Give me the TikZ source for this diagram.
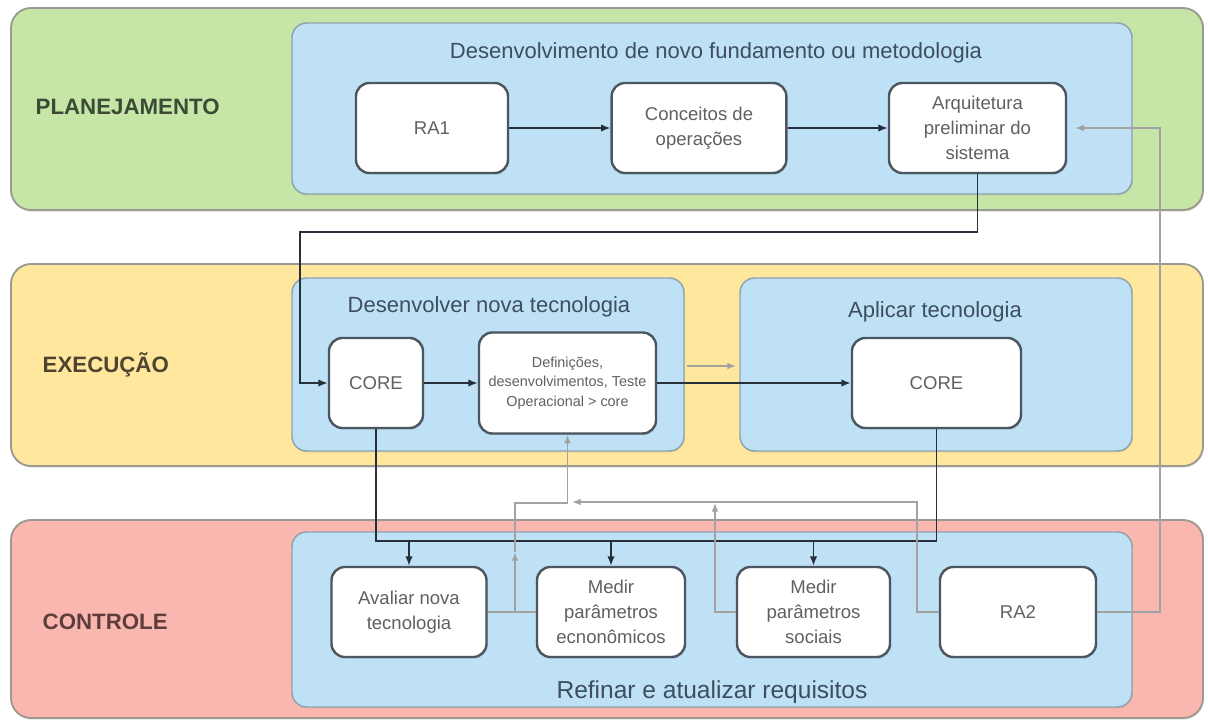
\documentclass[tikz,border=0pt]{standalone}
\usepackage{fontspec}
\setmainfont{Liberation Sans}
\usetikzlibrary{arrows.meta,fit,shadows}
\definecolor{lgreen}{HTML}{C5E6A6}
\definecolor{lyellow}{HTML}{FFE79E}
\definecolor{lpink}{HTML}{F9B7AF}
\definecolor{lblue}{HTML}{BFE1F5}
\definecolor{laneline}{HTML}{9C9A90}
\definecolor{blueline}{HTML}{8FA2AE}
\definecolor{boxline}{HTML}{4C5660}
\definecolor{boxtext}{HTML}{606060}
\definecolor{titletext}{HTML}{3D4E5E}
\definecolor{darkline}{HTML}{26303A}
\definecolor{grayline}{HTML}{A2A2A2}
\definecolor{plantext}{HTML}{3C4A36}
\definecolor{exectext}{HTML}{4E4430}
\definecolor{conttext}{HTML}{5E3E3C}
\begin{document}
\begin{tikzpicture}[x=0.75pt,y=-0.75pt,
  lane/.style={draw=laneline, line width=1.4pt, rounded corners=15pt, inner sep=0pt,
    drop shadow={shadow xshift=0.6pt, shadow yshift=-1.2pt, opacity=0.25}},
  bluebox/.style={draw=blueline, line width=1.1pt, fill=lblue, rounded corners=11pt, inner sep=0pt,
    drop shadow={shadow xshift=0.6pt, shadow yshift=-1.0pt, opacity=0.2}},
  wbox/.style={draw=boxline, line width=1.8pt, fill=white, rounded corners=10pt, align=center,
    text=boxtext, font=\fontsize{13.9}{18.75}\selectfont, inner sep=2pt,
    minimum height=67.5pt,
    drop shadow={shadow xshift=0.8pt, shadow yshift=-1.2pt, opacity=0.25}},
  lanelabel/.style={anchor=west, font=\fontsize{16.7}{20}\selectfont\bfseries},
  boxtitle/.style={text=titletext, font=\fontsize{16.5}{20}\selectfont},
  bline/.style={draw=darkline, line width=1.2pt},
  barrow/.style={bline, -{Latex[length=7pt,width=5.5pt]}},
  gline/.style={draw=grayline, line width=1.1pt},
  garrow/.style={gline, -{Latex[length=6.5pt,width=5pt]}}
]
\useasboundingbox (0,0) rectangle (1208,722);
\fill[white] (0,0) rectangle (1208,722);

% lanes
\node[lane, fill=lgreen, fit={(11,8) (1203,210)}] (plan) {};
\node[lane, fill=lyellow, fit={(11,264) (1203,466)}] (exec) {};
\node[lane, fill=lpink, fit={(11,520) (1203,718)}] (cont) {};

\node[lanelabel, text=plantext] (lplan) at (31,107) {PLANEJAMENTO};
\node[lanelabel, text=exectext] (lexec) at (38,365) {EXECUÇÃO};
\node[lanelabel, text=conttext] (lcont) at (38,622) {CONTROLE};

% blue containers
\node[bluebox, fit={(292,23) (1132,194)}] (bplan) {};
\node[bluebox, fit={(292,278) (684,451)}] (bdev) {};
\node[bluebox, fit={(740,278) (1132,451)}] (bapp) {};
\node[bluebox, fit={(292,532) (1132,707)}] (bcont) {};

\node[boxtitle] (tplan) at (716,53) {Desenvolvimento de novo fundamento ou metodologia};
\node[boxtitle] (tdev) at (489,307) {Desenvolver nova tecnologia};
\node[boxtitle] (tapp) at (935,312) {Aplicar tecnologia};
\node[text=titletext, font=\fontsize{18.4}{22}\selectfont] (tcont) at (712,692) {Refinar e atualizar requisitos};

% planning boxes
\node[wbox, minimum width=114pt] (ra1) at (432,128) {RA1};
\node[wbox, minimum width=131pt] (conc) at (699,128) {Conceitos de\\operações};
\node[wbox, minimum width=132.75pt] (arq) at (977.5,128) {Arquitetura\\preliminar do\\sistema};

% execution boxes
\node[wbox, minimum width=70.5pt] (core1) at (376,383) {CORE};
\node[wbox, minimum width=132.75pt, minimum height=75.75pt,
      font=\fontsize{10.8}{14.5}\selectfont] (def) at (567.5,383) {Definições,\\desenvolvimentos, Teste\\Operacional > core};
\node[wbox, minimum width=126.75pt] (core2) at (936.5,383) {CORE};

% control boxes
\node[wbox, minimum width=116.25pt] (aval) at (409,612) {Avaliar nova\\tecnologia};
\node[wbox, minimum width=111pt] (econ) at (611,612) {Medir\\parâmetros\\ecnonômicos};
\node[wbox, minimum width=114.75pt] (soc) at (813.5,612) {Medir\\parâmetros\\sociais};
\node[wbox, minimum width=117pt] (ra2) at (1018,612) {RA2};

% coordinates
\coordinate (c1) at (300,232);
\coordinate (bus1) at (376,541);
\coordinate (bus2) at (936.5,541);
\coordinate (ga) at (687,366);
\coordinate (gb) at (736,366);
\coordinate (g1a) at (515,612);
\coordinate (g1b) at (515,552);
\coordinate (g1c) at (515,503);
\coordinate (g1d) at (567.5,503);
\coordinate (g2a) at (917,612);
\coordinate (g2b) at (917,502);
\coordinate (g2c) at (572,502);
\coordinate (g3a) at (715,612);
\coordinate (g3b) at (715,503);
\coordinate (g4) at (1160,300);

% black connectors
\draw[barrow] (ra1.east) -- (conc.west);
\draw[barrow] (conc.east) -- (arq.west);
\draw[barrow] (arq.south) |- (c1) |- (core1.west);
\draw[barrow] (core1.east) -- (def.west);
\draw[barrow] (def.east) -- (core2.west);
\draw[bline] (core1.south) -- (bus1) -- (bus2) -- (core2.south);
\draw[barrow] (aval.north |- bus1) -- (aval.north);
\draw[barrow] (econ.north |- bus1) -- (econ.north);
\draw[barrow] (soc.north |- bus1) -- (soc.north);

% gray connectors
\draw[garrow] (ga) -- (gb);
\draw[gline] (aval.east) -- (econ.west);
\draw[garrow] (g1a) -- (g1b);
\draw[gline] (g1b) -- (g1c) -- (g1d);
\draw[garrow] (g1d) -- (def.south);
\draw[garrow] (ra2.west) -- (g2a) -- (g2b) -- (g2c);
\draw[garrow] (soc.west) -- (g3a) -- (g3b);
\draw[garrow, shorten >=6pt] (ra2.east) -| (g4) |- (arq.east);
\end{tikzpicture}
\end{document}
